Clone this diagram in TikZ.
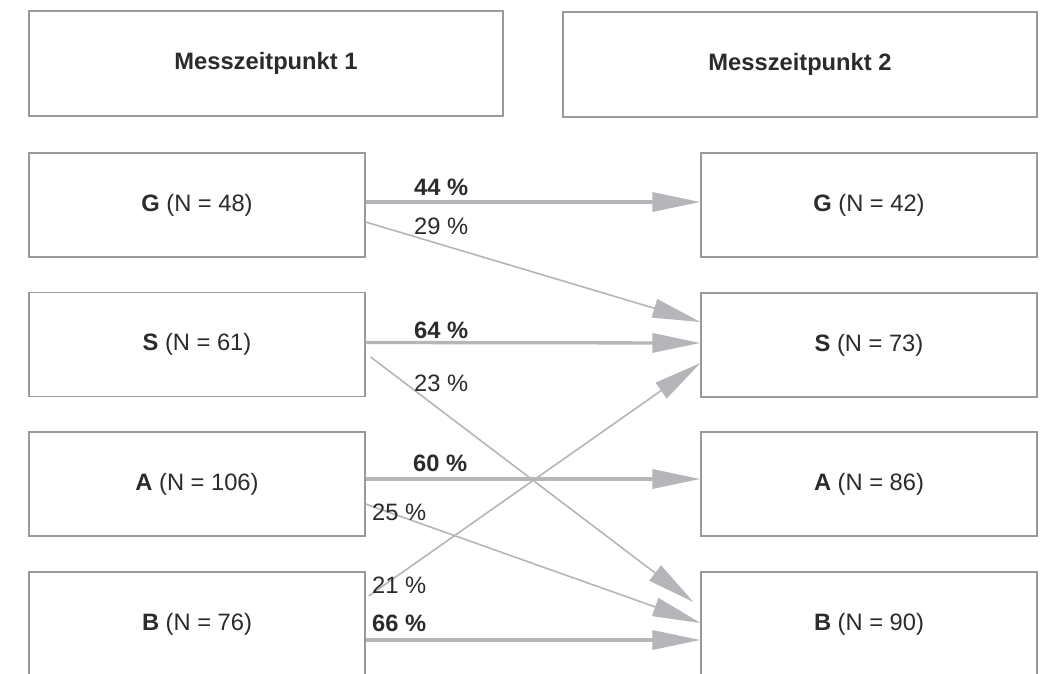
\documentclass[tikz,border=0pt]{standalone}
\usepackage{fontspec}
\setmainfont{Liberation Sans}
\usetikzlibrary{arrows.meta,calc}
\definecolor{boxline}{HTML}{9A9A9A}
\definecolor{arrowgray}{HTML}{B6B6BA}
\definecolor{txt}{HTML}{2B2B2B}
\begin{document}
\begin{tikzpicture}[x=1pt,y=-1pt,
  base/.style={text=txt, font=\fontsize{23.7pt}{28pt}\selectfont},
  box/.style={base, draw=boxline, line width=1.2pt, inner sep=0pt, minimum width=336pt, minimum height=104pt},
  headbox/.style={box, minimum width=474pt, minimum height=105pt},
  lbl/.style={base, anchor=west, inner sep=0pt},
  tip/.style={-{Triangle[length=48pt,width=19pt]}},
  mainarr/.style={draw=arrowgray, line width=3.3pt, tip},
  sidearr/.style={draw=arrowgray, line width=1.6pt, tip}]
\clip (0,0) rectangle (1044,674);
\fill[white] (0,0) rectangle (1044,674);
% headers
\node[headbox] (h1) at (266,63.5) {\textbf{Messzeitpunkt 1}};
\node[headbox] (h2) at (800,64.5) {\textbf{Messzeitpunkt 2}};
% left column
\node[box] (g1) at (197,205) {\textbf{G} (N = 48)};
\node[box] (s1) at (197,344.5) {\textbf{S} (N = 61)};
\node[box] (a1) at (197,484) {\textbf{A} (N = 106)};
\node[box] (b1) at (197,624) {\textbf{B} (N = 76)};
% right column
\node[box] (g2) at (869,205) {\textbf{G} (N = 42)};
\node[box] (s2) at (869,345) {\textbf{S} (N = 73)};
\node[box] (a2) at (869,484) {\textbf{A} (N = 86)};
\node[box] (b2) at (869,624) {\textbf{B} (N = 90)};
% connectors
\draw[mainarr] ([yshift=3pt]g1.east) -- ([yshift=3pt]g2.west);
\draw[sidearr] ([yshift=-17pt]g1.east) -- ([yshift=23pt]s2.west);
\draw[mainarr] ([yshift=2pt]s1.east) -- ([yshift=2pt]s2.west);
\draw[sidearr] ([xshift=5pt,yshift=-12.5pt]s1.east) -- ([xshift=-7pt,yshift=22pt]b2.west);
\draw[mainarr] ([yshift=5pt]a1.east) -- ([yshift=5pt]a2.west);
\draw[sidearr] ([yshift=-20pt]a1.east) -- ([yshift=1pt]b2.west);
\draw[sidearr] ([xshift=3pt,yshift=28pt]b1.east) -- ([yshift=-18pt]s2.west);
\draw[mainarr] ([yshift=-16pt]b1.east) -- ([yshift=-16pt]b2.west);
% labels
\node[lbl] (p44) at (414,187) {\textbf{44 \%}};
\node[lbl] (p29) at (414,226) {29 \%};
\node[lbl] (p64) at (414,330) {\textbf{64 \%}};
\node[lbl] (p23) at (414,383) {23 \%};
\node[lbl] (p60) at (413,463) {\textbf{60 \%}};
\node[lbl] (p25) at (372,512) {25 \%};
\node[lbl] (p21) at (372,585) {21 \%};
\node[lbl] (p66) at (372,623) {\textbf{66 \%}};
\end{tikzpicture}
\end{document}
